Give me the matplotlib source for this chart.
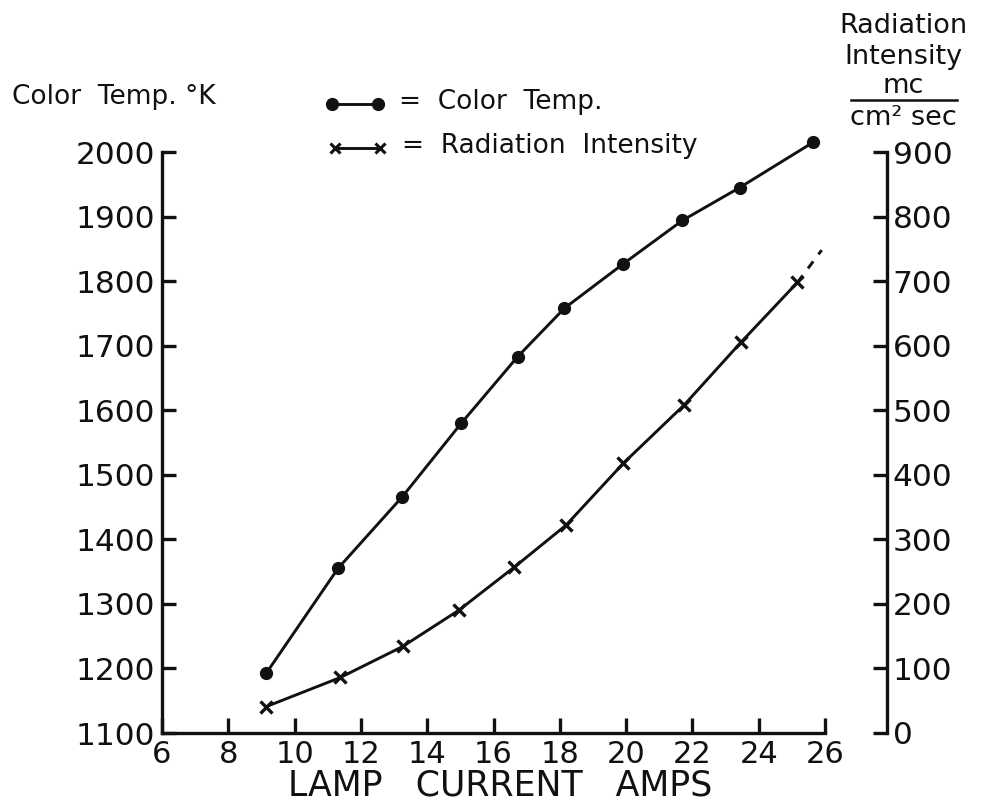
import matplotlib
matplotlib.use("Agg")
import matplotlib.pyplot as plt
from matplotlib.lines import Line2D

# ---- data ----
current_temp = [9.15, 11.31, 13.25, 15.03, 16.73, 18.14, 19.92, 21.70, 23.43, 25.64]
color_temp = [1193, 1355, 1466, 1580, 1683, 1758, 1827, 1894, 1945, 2015]

current_rad = [9.15, 11.38, 13.26, 14.95, 16.63, 18.19, 19.92, 21.75, 23.46, 25.17]
radiation = [41, 86, 134, 190, 257, 322, 418, 508, 605, 698]

rad_ext_x = [25.17, 25.9]
rad_ext_y = [698, 748]

x_ticks = [6, 8, 10, 12, 14, 16, 18, 20, 22, 24, 26]
left_ticks = [1100, 1200, 1300, 1400, 1500, 1600, 1700, 1800, 1900, 2000]
right_ticks = [0, 100, 200, 300, 400, 500, 600, 700, 800, 900]

plt.rcParams['font.family'] = ['DejaVu Sans']
W, H = 982, 809
fig = plt.figure(figsize=(W / 100, H / 100), dpi=100)
fig.patch.set_facecolor('white')

def fx(px):
    return px / W

def fy(py):
    return 1 - py / H

ax = fig.add_axes([fx(162), fy(733), fx(887) - fx(162), fy(152) - fy(733)])
ax2 = ax.twinx()

ink = '#111111'
lw = 2.1
spw = 2.4

ax.set_xlim(6, 27.87)
ax.set_ylim(1100, 2000)
ax2.set_ylim(0, 900)

# spines
for a in (ax, ax2):
    a.spines['top'].set_visible(False)
    for s in a.spines.values():
        s.set_linewidth(spw)
        s.set_color(ink)
ax.spines['right'].set_visible(False)
ax2.spines['left'].set_visible(False)
ax2.spines['bottom'].set_visible(False)
ax.spines['bottom'].set_bounds(6, 26)

ax.set_xticks(x_ticks)
ax.set_xticklabels([str(t) for t in x_ticks])
ax.set_yticks(left_ticks)
ax.set_yticklabels([str(t) for t in left_ticks])
ax2.set_yticks(right_ticks)
ax2.set_yticklabels([str(t) for t in right_ticks])

ax.tick_params(axis='x', direction='in', length=11, width=spw, pad=5,
               labelsize=22, colors=ink)
ax.tick_params(axis='y', direction='in', length=10, width=spw, pad=5,
               labelsize=22.5, colors=ink)
ax2.tick_params(axis='y', direction='in', length=10, width=spw, pad=4,
                labelsize=22.5, colors=ink)

# curves
ax.plot(current_temp, color_temp, '-', color=ink, lw=lw, marker='o',
        markersize=8.5, clip_on=False, zorder=3)
ax2.plot(current_rad, radiation, '-', color=ink, lw=lw, marker='x',
         markersize=8, markeredgewidth=2.4, clip_on=False, zorder=3)
ax2.plot(rad_ext_x, rad_ext_y, color=ink, lw=lw, linestyle=(0, (3, 3)),
         clip_on=False)

# axis labels
fig.text(fx(12), fy(97), 'Color  Temp. °K', fontsize=19, ha='left',
         va='center', color=ink)
fig.text(fx(500), fy(785), 'LAMP   CURRENT   AMPS', fontsize=25, ha='center',
         va='center', color=ink)

cx = 903
fig.text(fx(cx), fy(26), 'Radiation', fontsize=19.5, ha='center', va='center', color=ink)
fig.text(fx(cx), fy(57), 'Intensity', fontsize=19.5, ha='center', va='center', color=ink)
fig.text(fx(cx), fy(86), 'mc', fontsize=19.5, ha='center', va='center', color=ink)
fig.text(fx(cx), fy(118), 'cm² sec', fontsize=19.5, ha='center', va='center', color=ink)
fig.add_artist(Line2D([fx(851), fx(957)], [fy(100), fy(100)], color=ink,
                      lw=1.8, transform=fig.transFigure))

# legend
fig.add_artist(Line2D([fx(332), fx(378)], [fy(104), fy(104)], color=ink, lw=lw,
                      marker='o', markersize=8.5, transform=fig.transFigure))
fig.text(fx(399), fy(102), '=  Color  Temp.', fontsize=19, ha='left',
         va='center', color=ink)
fig.add_artist(Line2D([fx(335), fx(380)], [fy(148), fy(148)], color=ink, lw=lw,
                      marker='x', markersize=7, markeredgewidth=2.2,
                      transform=fig.transFigure))
fig.text(fx(402), fy(146), '=  Radiation  Intensity', fontsize=19, ha='left',
         va='center', color=ink)

fig.savefig('out.png', dpi=100, facecolor='white')
